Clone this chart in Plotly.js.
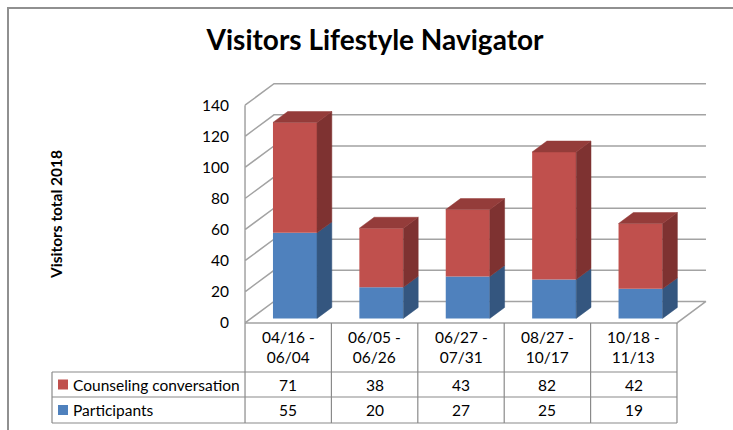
<!DOCTYPE html>
<html>
<head>
<meta charset="utf-8">
<script src="https://cdn.plot.ly/plotly-3.0.1.min.js"></script>
<style>html,body{margin:0;padding:0;background:#fff;}#chart{width:733px;height:430px;}</style>
</head>
<body>
<div id="chart"></div>
<script>
// ---- data ----
const categories = ['04/16 - 06/04', '06/05 - 06/26', '06/27 - 07/31', '08/27 - 10/17', '10/18 - 11/13'];
const counseling = [71, 38, 43, 82, 42];
const participants = [55, 20, 27, 25, 19];
const seriesNames = ['Counseling conversation', 'Participants'];
const yTicks = [0, 20, 40, 60, 80, 100, 120, 140];
const chartTitle = 'Visitors Lifestyle Navigator';
const yTitle = 'Visitors total 2018';

// ---- geometry / style ----
const W = 733, H = 430, L = 242, R = 24, T = 80, B = 104;
const xr = [-0.535, 4.5 + 0.3356 + 0.035];
const yr = [-2, 156.2];
const dxU = 0.3356, dyU = 13.8;          // wall depth in data units
const fShift = 0.21, bShift = 0.72;        // bar front/back depth fractions
const barW = 0.51, barOff = -0.247;
const fdx = fShift * dxU, fdy = fShift * dyU;
const ddx = (bShift - fShift) * dxU, ddy = (bShift - fShift) * dyU;
const FONT = 'Lato, "Open Sans", sans-serif';
const blue = '#4f81bd', blueSide = '#34567f';
const red = '#c0504d', redSide = '#7e3231', redTop = '#943c3a';
const gridCol = '#a3a3a3', tableCol = '#8a8a8a';

const xs = categories.map((c, i) => i);
const pw = W - L - R, ph = H - T - B;
const pxX = p => (p - L) / pw;
const pxY = p => (H - B - p) / ph;
const dX = x => (x - xr[0]) / (xr[1] - xr[0]);

// front faces (bars)
const traces = [];
traces.push({
  type: 'bar', x: xs, y: participants, base: xs.map(() => fdy),
  offset: barOff + fdx, width: barW, marker: {color: blue, line: {width: 0}},
  hoverinfo: 'skip', showlegend: false
});
traces.push({
  type: 'bar', x: xs, y: counseling, base: participants.map(p => fdy + p),
  offset: barOff + fdx, width: barW, marker: {color: red, line: {width: 0}},
  hoverinfo: 'skip', showlegend: false
});

// side and top faces
function sidePoly(y0s, y1s) {
  const X = [], Y = [];
  xs.forEach((x, i) => {
    const xR = x + barOff + fdx + barW;
    const a = y0s[i] + fdy, b = y1s[i] + fdy;
    X.push(xR, xR + ddx, xR + ddx, xR, xR, null);
    Y.push(a, a + ddy, b + ddy, b, a, null);
  });
  return {X, Y};
}
function topPoly(tops) {
  const X = [], Y = [];
  xs.forEach((x, i) => {
    const xL = x + barOff + fdx, xR = xL + barW, t = tops[i] + fdy;
    X.push(xL, xR, xR + ddx, xL + ddx, xL, null);
    Y.push(t, t, t + ddy, t + ddy, t, null);
  });
  return {X, Y};
}
const totals = participants.map((p, i) => p + counseling[i]);
const sb = sidePoly(participants.map(() => 0), participants);
const sr = sidePoly(participants, totals);
const tp = topPoly(totals);
[[sb, blueSide], [sr, redSide], [tp, redTop]].forEach(([p, col]) => {
  traces.push({
    type: 'scatter', mode: 'lines', x: p.X, y: p.Y, fill: 'toself', fillcolor: col,
    line: {width: 0.5, color: col}, hoverinfo: 'skip', showlegend: false, connectgaps: false
  });
});

// walls / grid
let path = '';
yTicks.forEach(v => {
  path += `M${-0.5},${v} L${-0.5 + dxU},${v + dyU} L${4.5 + dxU},${v + dyU} `;
});
path += `M${-0.5},0 L${-0.5},${yTicks[yTicks.length - 1]} `;
path += `M${-0.5},0 L${4.5},0 L${4.5 + dxU},${dyU}`;
const shapes = [{
  type: 'path', xref: 'x', yref: 'y', path: path, layer: 'below',
  line: {color: gridCol, width: 1.5}
}];

// outer chart border
shapes.push({type: 'rect', xref: 'paper', yref: 'paper', x0: pxX(8), x1: pxX(745), y0: pxY(8), y1: pxY(445),
  line: {color: '#909090', width: 2}, fillcolor: 'rgba(0,0,0,0)'});

// data table
const tblTop = 323, r1 = 372, r2 = 397, r3 = 423, tblLeft = 52;
const colEdges = [];
for (let k = 0; k <= categories.length; k++) colEdges.push(k - 0.5);
colEdges.forEach(e => {
  shapes.push({type: 'line', xref: 'paper', yref: 'paper', x0: dX(e), x1: dX(e), y0: pxY(tblTop), y1: pxY(r3),
    line: {color: tableCol, width: 1.2}});
});
[r1, r2, r3].forEach(r => {
  shapes.push({type: 'line', xref: 'paper', yref: 'paper', x0: pxX(tblLeft), x1: dX(colEdges[colEdges.length - 1]),
    y0: pxY(r), y1: pxY(r), line: {color: tableCol, width: 1.2}});
});
shapes.push({type: 'line', xref: 'paper', yref: 'paper', x0: pxX(tblLeft), x1: pxX(tblLeft), y0: pxY(r1), y1: pxY(r3),
  line: {color: tableCol, width: 1.2}});
// legend keys
[[red, (r1 + r2) / 2], [blue, (r2 + r3) / 2]].forEach(([c, cy]) => {
  shapes.push({type: 'rect', xref: 'paper', yref: 'paper', x0: pxX(58), x1: pxX(68), y0: pxY(cy - 5), y1: pxY(cy + 5),
    line: {width: 0}, fillcolor: c});
});

const annotations = [];
const tf = {family: FONT, size: 15.5, color: '#000'};
categories.forEach((c, i) => {
  const parts = c.split(' - ');
  annotations.push({xref: 'paper', yref: 'paper', x: dX(xs[i]), y: pxY((tblTop + r1) / 2 - 1),
    text: parts[0] + ' -<br>' + parts[1], showarrow: false, font: tf, xanchor: 'center', yanchor: 'middle'});
  annotations.push({xref: 'paper', yref: 'paper', x: dX(xs[i]), y: pxY((r1 + r2) / 2),
    text: String(counseling[i]), showarrow: false, font: tf, xanchor: 'center', yanchor: 'middle'});
  annotations.push({xref: 'paper', yref: 'paper', x: dX(xs[i]), y: pxY((r2 + r3) / 2),
    text: String(participants[i]), showarrow: false, font: tf, xanchor: 'center', yanchor: 'middle'});
});
annotations.push({xref: 'paper', yref: 'paper', x: pxX(71), y: pxY((r1 + r2) / 2), text: seriesNames[0],
  showarrow: false, font: tf, xanchor: 'left', yanchor: 'middle'});
annotations.push({xref: 'paper', yref: 'paper', x: pxX(71), y: pxY((r2 + r3) / 2), text: seriesNames[1],
  showarrow: false, font: tf, xanchor: 'left', yanchor: 'middle'});
annotations.push({xref: 'paper', yref: 'paper', x: pxX(56), y: pxY(215), text: '<b>' + yTitle + '</b>',
  textangle: -90, showarrow: false, font: {family: FONT, size: 15.5, color: '#000'}, xanchor: 'center', yanchor: 'middle'});

const layout = {
  width: W, height: H,
  margin: {l: L, r: R, t: T, b: B, pad: 0},
  paper_bgcolor: '#fff', plot_bgcolor: 'rgba(0,0,0,0)',
  title: {text: '<b>' + chartTitle + '</b>', x: 375 / W, xanchor: 'center', xref: 'container',
    y: 1 - 40 / H, yanchor: 'middle', yref: 'container', font: {family: FONT, size: 28, color: '#000'}},
  barmode: 'overlay',
  xaxis: {range: xr, showgrid: false, zeroline: false, showline: false, showticklabels: false, ticks: '', fixedrange: true},
  yaxis: {range: yr, tickvals: yTicks, ticktext: yTicks.map(String), showgrid: false, zeroline: false, showline: false,
    ticks: 'outside', ticklen: 9, tickcolor: 'rgba(0,0,0,0)', tickfont: {family: FONT, size: 15.5, color: '#000'}, fixedrange: true},
  shapes: shapes, annotations: annotations, showlegend: false
};
Plotly.newPlot('chart', traces, layout, {staticPlot: true, displayModeBar: false});
</script>
</body>
</html>
